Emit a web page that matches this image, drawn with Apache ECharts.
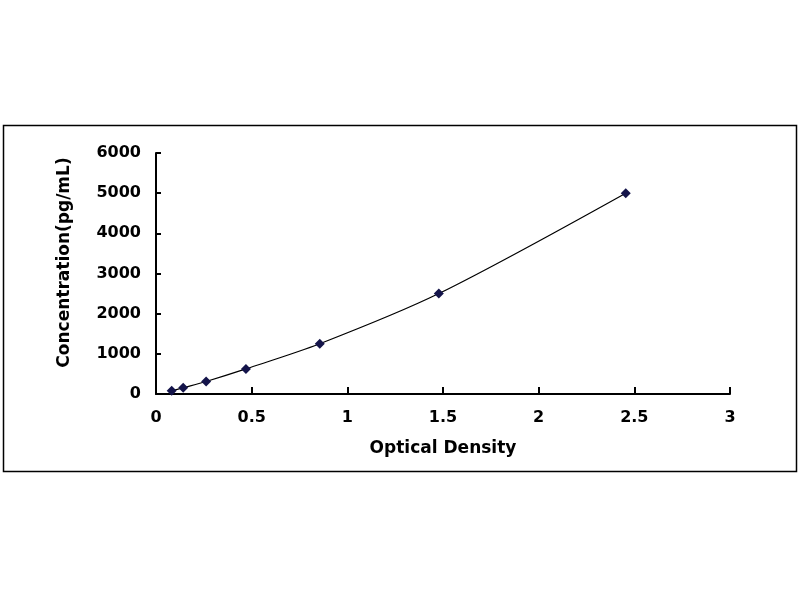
<!DOCTYPE html>
<html>
<head>
<meta charset="utf-8">
<script src="https://cdn.jsdelivr.net/npm/echarts@6/dist/echarts.min.js"></script>
<style>html,body{margin:0;padding:0;background:#fff}#c{width:800px;height:600px}</style>
</head>
<body>
<div id="c"></div>
<script>
const od = [0.082, 0.142, 0.262, 0.47, 0.856, 1.478, 2.455];
const conc = [78, 156, 312, 625, 1250, 2500, 5000];
const xTicks = [0, 0.5, 1, 1.5, 2, 2.5, 3];
const yTicks = [0, 1000, 2000, 3000, 4000, 5000, 6000];

const chart = echarts.init(document.getElementById('c'));
const font = 'DejaVu Sans, sans-serif';
chart.setOption({
  animation: false,
  backgroundColor: '#fff',
  graphic: [{
    type: 'rect',
    shape: {x: 3.5, y: 125.5, width: 793, height: 346},
    style: {fill: 'none', stroke: '#000', lineWidth: 1.5}
  }],
  grid: {left: 156, right: 70, top: 153, bottom: 206},
  xAxis: {
    type: 'value', min: xTicks[0], max: xTicks[xTicks.length-1], interval: 0.5,
    name: 'Optical Density', nameLocation: 'middle', nameGap: 46,
    nameTextStyle: {fontFamily: font, fontWeight: 'bold', fontSize: 17, color: '#000'},
    axisLine: {lineStyle: {color: '#000', width: 2}},
    axisTick: {show: true, inside: true, length: 7, lineStyle: {color: '#000', width: 2}},
    axisLabel: {fontFamily: font, fontWeight: 'bold', fontSize: 16, color: '#000', margin: 16,
      formatter: v => String(v)},
    splitLine: {show: false}
  },
  yAxis: {
    type: 'value', min: yTicks[0], max: yTicks[yTicks.length-1], interval: 1000,
    name: 'Concentration(pg/mL)', nameLocation: 'middle', nameGap: 83,
    nameTextStyle: {fontFamily: font, fontWeight: 'bold', fontSize: 17, color: '#000',
      padding: [0, 0, 0, 22]},
    axisLine: {show: true, lineStyle: {color: '#000', width: 2}},
    axisTick: {show: true, inside: true, length: 5, lineStyle: {color: '#000', width: 2}},
    axisLabel: {fontFamily: font, fontWeight: 'bold', fontSize: 16, color: '#000', margin: 15,
      formatter: v => String(v)},
    splitLine: {show: false}
  },
  series: [{
    type: 'line',
    data: od.map((v, i) => [v, conc[i]]),
    smooth: 0.3,
    symbol: 'diamond',
    symbolSize: 10,
    itemStyle: {color: '#14144a'},
    lineStyle: {color: '#000', width: 1.2}
  }]
});
</script>
</body>
</html>
